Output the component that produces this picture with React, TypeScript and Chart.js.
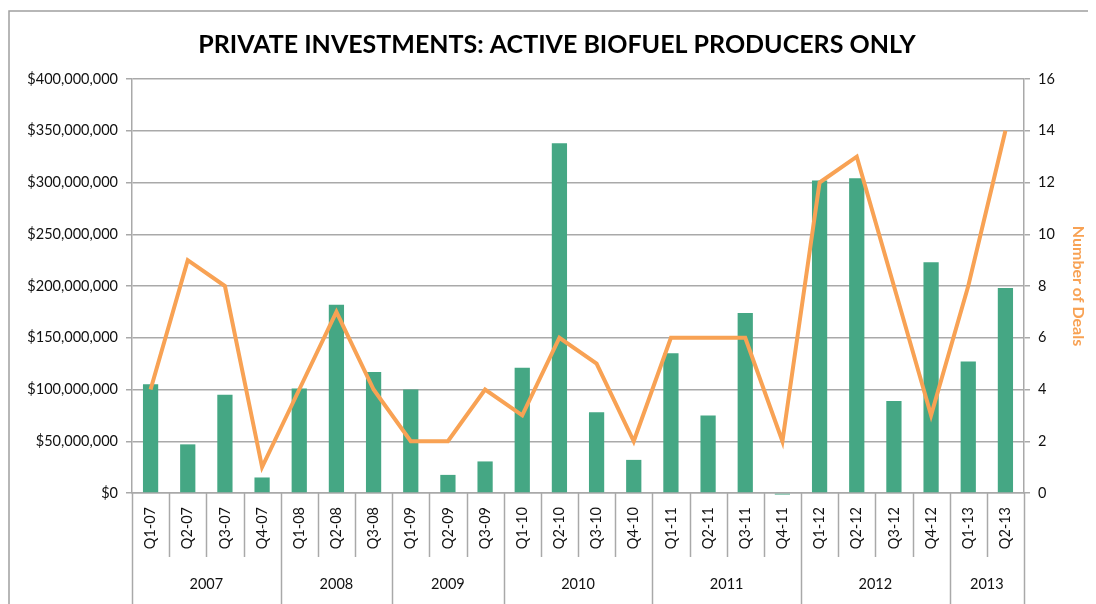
import React, { useEffect, useRef } from "react";
import { Chart, registerables } from "chart.js";

Chart.register(...registerables);

const categories = [
  "Q1-07", "Q2-07", "Q3-07", "Q4-07",
  "Q1-08", "Q2-08", "Q3-08",
  "Q1-09", "Q2-09", "Q3-09",
  "Q1-10", "Q2-10", "Q3-10", "Q4-10",
  "Q1-11", "Q2-11", "Q3-11", "Q4-11",
  "Q1-12", "Q2-12", "Q3-12", "Q4-12",
  "Q1-13", "Q2-13",
];

const investments = [
  105e6, 47e6, 95e6, 15e6,
  101e6, 182e6, 117e6,
  100e6, 17.5e6, 30.5e6,
  121e6, 338e6, 78e6, 32e6,
  135e6, 75e6, 174e6, -1.5e6,
  302e6, 304e6, 89e6, 223e6,
  127e6, 198e6,
];

const deals = [
  4, 9, 8, 1,
  4, 7, 4,
  2, 2, 4,
  3, 6, 5, 2,
  6, 6, 6, 2,
  12, 13, 8, 3,
  8, 14,
];

const years = ["2007", "2008", "2009", "2010", "2011", "2012", "2013"];
const yearCounts = [4, 3, 3, 4, 4, 4, 2];

const TITLE = "PRIVATE INVESTMENTS: ACTIVE BIOFUEL PRODUCERS ONLY";
const FONT = "Lato, 'Open Sans', sans-serif";
const GRID = "#a9a9a9";
const BAR = "#45a784";
const LINE = "#f8a254";

const groupPlugin = {
  id: "groupAxis",
  afterDraw(chart: any) {
    const { ctx, chartArea } = chart;
    const x = chart.scales.x;
    const n = categories.length;
    const step = (chartArea.right - chartArea.left) / n;
    const bottom = chartArea.bottom;
    const H = chart.height;
    ctx.save();
    ctx.strokeStyle = GRID;
    ctx.lineWidth = 1.5;
    const yearBounds = new Set<number>();
    let acc = 0;
    yearBounds.add(0);
    yearCounts.forEach((c) => {
      acc += c;
      yearBounds.add(acc);
    });
    for (let i = 0; i <= n; i++) {
      const px = Math.round(x.getPixelForValue(i) - step / 2) + 0.5;
      const isYear = yearBounds.has(i);
      ctx.beginPath();
      ctx.moveTo(px, bottom);
      ctx.lineTo(px, isYear ? H : bottom + 64);
      ctx.stroke();
    }
    ctx.fillStyle = "#111";
    ctx.font = `14.5px ${FONT}`;
    ctx.textAlign = "center";
    ctx.textBaseline = "middle";
    let start = 0;
    years.forEach((y, k) => {
      const c = yearCounts[k];
      const l = x.getPixelForValue(start) - step / 2;
      const r = x.getPixelForValue(start + c - 1) + step / 2;
      ctx.fillText(y, (l + r) / 2, bottom + 91);
      start += c;
    });
    ctx.strokeStyle = "#a0a0a0";
    ctx.lineWidth = 1.5;
    ctx.beginPath();
    ctx.moveTo(1, H);
    ctx.lineTo(1, 3);
    ctx.lineTo(chart.width + 5, 3);
    ctx.stroke();
    ctx.restore();
  },
};

export default function App() {
  const ref = useRef<HTMLCanvasElement | null>(null);
  useEffect(() => {
    if (!ref.current) return;
    const chart = new Chart(ref.current, {
      type: "bar",
      data: {
        labels: categories,
        datasets: [
          {
            type: "line",
            label: "Number of Deals",
            data: deals,
            borderColor: LINE,
            backgroundColor: LINE,
            borderWidth: 4,
            pointRadius: 0,
            tension: 0,
            yAxisID: "y1",
            order: 0,
          } as any,
          {
            type: "bar",
            label: "Investment",
            data: investments,
            backgroundColor: BAR,
            barPercentage: 0.41,
            categoryPercentage: 1,
            yAxisID: "y",
            order: 1,
            clip: false,
          } as any,
        ],
      },
      options: {
        animation: false,
        responsive: true,
        maintainAspectRatio: false,
        layout: { padding: { left: 18, right: 0, top: 0, bottom: 0 } },
        plugins: {
          legend: { display: false },
          tooltip: { enabled: false },
          title: {
            display: true,
            text: TITLE,
            color: "#000",
            font: { family: FONT, size: 25, weight: "bold" },
            padding: { top: 22, bottom: 19 },
          },
        },
        scales: {
          x: {
            grid: { display: false, drawTicks: false },
            border: { display: true, color: GRID, width: 1.5 },
            ticks: {
              color: "#111",
              font: { family: FONT, size: 14.5 },
              minRotation: 90,
              maxRotation: 90,
              padding: 14,
              autoSkip: false,
            },
            afterFit(scale: any) {
              scale.height = 111;
            },
          },
          y: {
            position: "left",
            min: 0,
            max: 400000000,
            grid: { color: GRID, lineWidth: 1.5, tickLength: 6 },
            border: { display: true, color: GRID, width: 1.5 },
            ticks: {
              stepSize: 50000000,
              color: "#111",
              font: { family: FONT, size: 14.5 },
              padding: 8,
              callback: (v: any) => "$" + Number(v).toLocaleString("en-US"),
            },
            afterFit(scale: any) {
              scale.width = 106;
            },
          },
          y1: {
            position: "right",
            min: 0,
            max: 16,
            grid: { drawOnChartArea: false, color: GRID, lineWidth: 1.5, tickLength: 6 },
            border: { display: true, color: GRID, width: 1.5 },
            ticks: {
              stepSize: 2,
              color: "#111",
              font: { family: FONT, size: 14.5 },
              padding: 8,
            },
            title: {
              display: true,
              text: "Number of Deals",
              color: LINE,
              font: { family: FONT, size: 16, weight: "bold" },
              padding: { top: 0, bottom: 0 },
            },
            afterFit(scale: any) {
              scale.width = 64;
            },
          },
        },
      },
      plugins: [groupPlugin],
    });
    return () => chart.destroy();
  }, []);
  return (
    <div style={{ width: 1080, height: 596, position: "relative" }}>
      <canvas ref={ref} />
    </div>
  );
}
